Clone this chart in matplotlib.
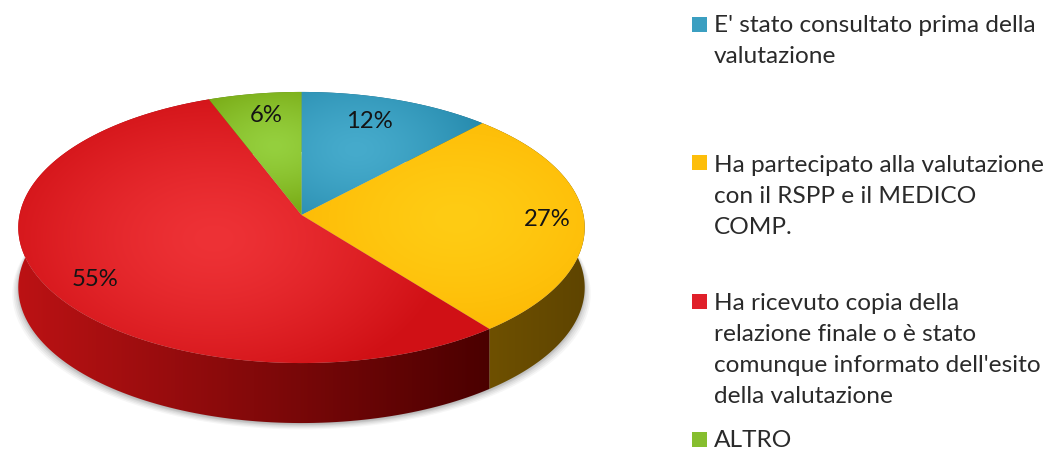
import numpy as np
import matplotlib
matplotlib.use('Agg')
import matplotlib.pyplot as plt
from matplotlib.patches import Polygon, Rectangle
from matplotlib.colors import to_rgb

# values (labels are rounded)
labels = ["E' stato consultato prima della\nvalutazione",
          "Ha partecipato alla valutazione\ncon il RSPP e il MEDICO\nCOMP.",
          "Ha ricevuto copia della\nrelazione finale o è stato\ncomunque informato dell'esito\ndella valutazione",
          "ALTRO"]
values = [12.0, 27.4, 54.8, 5.8]
pct_labels = ['12%', '27%', '55%', '6%']

col_light = ['#46ABCC', '#FFCC14', '#EE3236', '#95D03E']
col_dark = ['#2488AB', '#FDB400', '#D01015', '#7AAC17']
col_side_l = ['#14607A', '#6E5000', '#BC1214', '#557A10']
col_side_r = ['#14607A', '#5E4400', '#4A0000', '#557A10']
col_legend = ['#3B9FC1', '#FDBE0A', '#E0202A', '#86BE2E']

W, H = 1054, 451
CX, CY = 301.5, 215
A, B, K = 282.0, 134.4, 0.0922
DEPTH = 60

font = 'Lato'
txt_col = '#2a2a2a'

fig = plt.figure(figsize=(W/100, H/100), dpi=100)
ax = fig.add_axes([0, 0, 1, 1])
ax.set_xlim(0, W)
ax.set_ylim(H, 0)
ax.axis('off')


def proj(ang, r=1.0):
    # disc to screen, with a bit of perspective
    x = r*np.sin(ang)
    y = r*np.cos(ang)
    w = 1 + K*y
    return CX + A*x/w, CY - B*y/w


def grad_img(fn, clip, z):
    # fn gets pixel grids, returns rgb array
    xx, yy = np.meshgrid(np.arange(W)+0.5, np.arange(H)+0.5)
    im = ax.imshow(fn(xx, yy), extent=(0, W, H, 0), zorder=z, aspect='auto',
                   interpolation='bilinear')
    patch = Polygon(clip, closed=True, transform=ax.transData, fc='none', ec='none')
    ax.add_patch(patch)
    im.set_clip_path(patch)


edges = np.cumsum([0] + values)/np.sum(values)*2*np.pi
t = np.linspace(0, 2*np.pi, 400)
ox, oy = proj(t)

# soft shadow under the wall
for grow, al in zip([8, 6.5, 5, 3.5, 2.5, 1], [.05, .07, .08, .10, .11, .12]):
    ax.add_patch(Polygon(np.c_[CX + (ox-CX)*(1+(grow-2)/284), oy + DEPTH + grow*0.8],
                         closed=True, fc='#555555', ec='none', alpha=al, zorder=1))

for i in range(len(values)):
    a = np.linspace(edges[i], edges[i+1], 150)
    px, py = proj(a)
    c0 = np.array(to_rgb(col_light[i]))
    c1 = np.array(to_rgb(col_dark[i]))
    s0 = np.array(to_rgb(col_side_l[i]))
    s1 = np.array(to_rgb(col_side_r[i]))

    # wall, only the front parts show
    wall = np.r_[np.c_[px, py], np.c_[px, py+DEPTH][::-1]]
    xa, xb = px.min(), px.max()
    if i == 1:
        xa, xb = 491, 587
    if i == 2:
        xa, xb = 17, 491

    def side(xx, yy, xa=xa, xb=xb, s0=s0, s1=s1):
        f = np.clip((xx-xa)/(xb-xa), 0, 1)[..., None]
        return s0*(1-f) + s1*f
    grad_img(side, wall, 2 + i*0.1)

    # top face, highlight in the middle of the slice
    mid = (edges[i]+edges[i+1])/2
    hr = 0.35 if i == 2 else 0.55
    hx, hy = proj(mid, hr)
    size = 40*np.sqrt(values[i])
    if i == 2:
        size = size*0.8

    def top(xx, yy, hx=hx, hy=hy, size=size, c0=c0, c1=c1):
        d = np.hypot(xx-hx, (yy-hy)*1.5)/size
        f = np.clip(d, 0, 1)[..., None]**1.4
        return c0*(1-f) + c1*f
    grad_img(top, np.r_[[[CX, CY]], np.c_[px, py]], 4)

# value labels
pct_pos = [(369, 122), (547, 220), (95, 279), (266, 115)]
for s, (x, y) in zip(pct_labels, pct_pos):
    ax.text(x, y, s, ha='center', va='center', fontsize=17.2, family=font,
            color='#141414', zorder=6)

# legend, one text per line
box_y = [17, 155, 294, 432]
base_y = [32, 172, 310, 447]
for i, lab in enumerate(labels):
    ax.add_patch(Rectangle((692, box_y[i]), 15, 15, fc=col_legend[i], ec='none', zorder=5))
    for j, line in enumerate(lab.split('\n')):
        ax.text(714, base_y[i] + j*31, line, ha='left', va='baseline', fontsize=17.6,
                family=font, color=txt_col, zorder=6)

fig.savefig('out.png', dpi=100, facecolor='white')
